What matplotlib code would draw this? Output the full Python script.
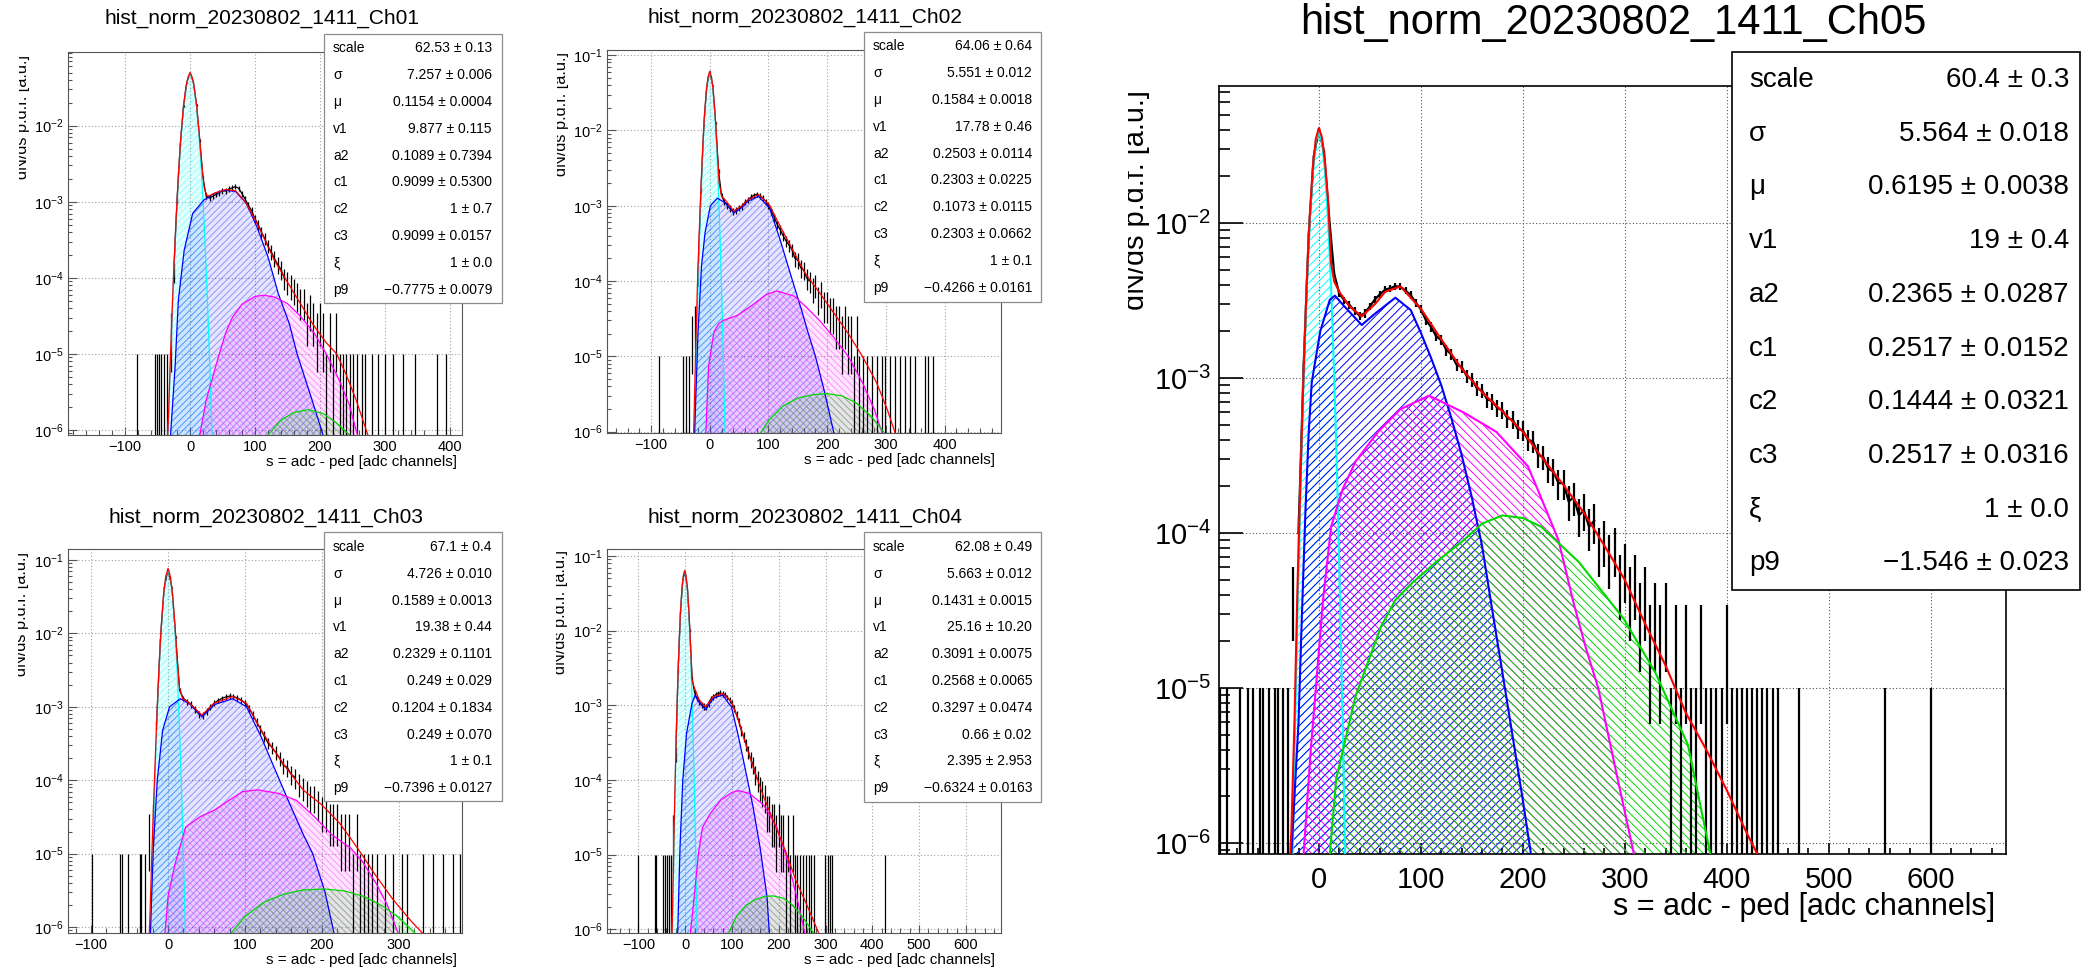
import numpy as np
import matplotlib
matplotlib.use('Agg')
import matplotlib.pyplot as plt
from matplotlib.patches import Rectangle
from matplotlib.ticker import LogLocator, MultipleLocator, NullFormatter
from matplotlib.transforms import Bbox, TransformedBbox

plt.rcParams['font.family'] = ['Liberation Sans', 'DejaVu Sans']
plt.rcParams['mathtext.fontset'] = 'custom'
plt.rcParams['mathtext.rm'] = 'Liberation Sans'
plt.rcParams['mathtext.it'] = 'Liberation Sans:italic'
plt.rcParams['mathtext.bf'] = 'Liberation Sans:bold'
plt.rcParams['hatch.linewidth'] = 0.7

W, H = 2083, 969
COUNT = 1e-5   # one entry of the normalised histogram
BIN = 5        # spacing of the data bins

STAT_NAMES = ['scale', 'σ', 'μ', 'v1', 'a2', 'c1', 'c2', 'c3', 'ξ', 'p9']
XLABEL = 's = adc - ped [adc channels]'
YLABEL = 'dN/ds p.d.f. [a.u.]'

# ---------------- Ch01 ----------------
ch01_stats = ['62.53 ± 0.13', '7.257 ± 0.006', '0.1154 ± 0.0004', '9.877 ± 0.115',
              '0.1089 ± 0.7394', '0.9099 ± 0.5300', '1 ± 0.7', '0.9099 ± 0.0157',
              '1 ± 0.0', '\u22120.7775 ± 0.0079']
ch01_x0 = -40
ch01_counts = [1, 1, 2, 12, 104, 560, 1800, 3700, 4900, 3800, 1880, 640, 205, 118, 112,
               118, 125, 132, 140, 138, 148, 152, 158, 150, 128, 108, 90, 76, 60, 50,
               40, 33, 26, 22, 18, 15, 13, 10, 9, 8, 7, 6, 5, 5, 3, 4, 3, 2, 3, 2,
               1, 2, 1, 2]
ch01_single = [-82, -54, -51, -48, -45, 231, 236, 241, 246, 251, 258, 265, 269, 280,
               289, 300, 312, 328, 346, 380, 395]
ch01_cyan_x = [-38, -34, -30, -26, -22, -18, -14, -10, -6, -3, 0, 3, 6, 10, 14, 18, 22, 26, 30, 34, 38]
ch01_cyan_y = [5.3e-8, 8.1e-7, 9.2e-6, 7.7e-5, 4.8e-4, 2.2e-3, 7.3e-3, 1.82e-2, 3.34e-2, 4.31e-2, 4.7e-2,
               4.31e-2, 3.34e-2, 1.82e-2, 7.3e-3, 2.2e-3, 4.8e-4, 7.7e-5, 9.2e-6, 8.1e-7, 5.3e-8]
ch01_blue_x = [-32, -30, -23, -18, -9, 4, 21, 37, 55, 70, 87, 103, 120, 136, 153, 165, 186, 205, 210]
ch01_blue_y = [3e-7, 8.6e-7, 6.8e-6, 5.1e-5, 2.3e-4, 7.0e-4, 1.05e-3, 1.29e-3, 1.42e-3, 1.37e-3,
               9.5e-4, 4.7e-4, 1.9e-4, 6.2e-5, 2.5e-5, 1.0e-5, 2.8e-6, 8.6e-7, 5e-7]
ch01_magenta_x = [12, 15, 25, 35, 45, 55, 65, 80, 100, 114, 130, 150, 169, 191, 210, 230, 245, 258, 262]
ch01_magenta_y = [4e-7, 8.6e-7, 2.5e-6, 5e-6, 1.0e-5, 1.9e-5, 3.0e-5, 4.5e-5, 5.7e-5, 5.9e-5,
                  5.6e-5, 4.6e-5, 3.2e-5, 1.9e-5, 1.0e-5, 4.5e-6, 2.2e-6, 8.6e-7, 6e-7]
ch01_green_x = [115, 120, 140, 160, 182, 205, 225, 246, 250]
ch01_green_y = [6e-7, 8.6e-7, 1.35e-6, 1.7e-6, 1.85e-6, 1.65e-6, 1.25e-6, 8.6e-7, 7e-7]
ch01_red_x = [-38, -34, -30, -26, -22, -18, -14, -10, -6, -3, 0, 3, 6, 10, 14, 18, 22, 26, 30,
              40, 55, 70, 85, 100, 115, 130, 150, 170, 190, 210, 226, 240, 255, 274, 280]
ch01_red_y = [2e-7, 1.0e-6, 1.0e-5, 8.1e-5, 4.9e-4, 2.25e-3, 7.4e-3, 1.84e-2, 3.37e-2, 4.35e-2, 5.0e-2,
              4.4e-2, 3.4e-2, 1.9e-2, 8.1e-3, 3.1e-3, 1.5e-3, 1.2e-3, 1.2e-3, 1.32e-3, 1.45e-3,
              1.4e-3, 1.0e-3, 5.9e-4, 3.2e-4, 1.7e-4, 8.8e-5, 4.6e-5, 2.4e-5, 1.4e-5, 1.0e-5,
              5.5e-6, 2.6e-6, 8.6e-7, 5e-7]

# ---------------- Ch02 ----------------
ch02_stats = ['64.06 ± 0.64', '5.551 ± 0.012', '0.1584 ± 0.0018', '17.78 ± 0.46',
              '0.2503 ± 0.0114', '0.2303 ± 0.0225', '0.1073 ± 0.0115', '0.2303 ± 0.0662',
              '1 ± 0.1', '\u22120.4266 ± 0.0161']
ch02_x0 = -35
ch02_counts = [1, 2, 3, 12, 160, 1190, 3900, 6000, 4000, 1260, 290, 138, 112, 102, 92,
               84, 88, 94, 98, 112, 118, 130, 138, 142, 136, 128, 114, 101, 84, 70,
               56, 48, 40, 34, 30, 26, 20, 19, 15, 14, 11, 10, 8, 9, 6, 7, 5, 5, 4, 4,
               3, 3, 2, 3, 2, 2, 1, 2, 1]
ch02_single = [-87, -45, -40, 261, 267, 276, 284, 293, 298, 307, 315, 324, 332, 341,
               349, 366, 371, 380]
ch02_cyan_x = [-27, -24, -21, -18, -15, -12, -9, -6, -3, 0, 3, 6, 9, 12, 15, 18, 21, 24, 27]
ch02_cyan_y = [4.2e-7, 5.0e-6, 4.5e-5, 3.0e-4, 1.5e-3, 5.6e-3, 1.56e-2, 3.23e-2, 5.01e-2, 5.8e-2,
               5.01e-2, 3.23e-2, 1.56e-2, 5.6e-3, 1.5e-3, 3.0e-4, 4.5e-5, 5.0e-6, 4.2e-7]
ch02_blue_x = [-28, -26, -20, -14, -8, 1, 13, 26, 41, 55, 65, 83, 102, 120, 138, 156, 168, 180,
               195, 213, 218]
ch02_blue_y = [4e-7, 8.5e-7, 2.1e-5, 1.6e-4, 4.4e-4, 1.0e-3, 1.26e-3, 1.1e-3, 8.0e-4, 9.5e-4,
               1.15e-3, 1.33e-3, 9.3e-4, 3.5e-4, 1.2e-4, 4.2e-5, 2.0e-5, 1.0e-5, 3.5e-6, 8.5e-7, 5e-7]
ch02_magenta_x = [-9, -7, -2, 7, 15, 23, 47, 71, 96, 114, 144, 162, 187, 211, 236, 260, 280, 296, 300]
ch02_magenta_y = [4e-7, 8.5e-7, 7.4e-6, 2.1e-5, 2.7e-5, 3.0e-5, 3.5e-5, 4.7e-5, 6.6e-5, 7.4e-5,
                  6.3e-5, 4.7e-5, 3.0e-5, 1.8e-5, 1.0e-5, 4.5e-6, 2.0e-6, 8.5e-7, 6e-7]
ch02_green_x = [78, 82, 100, 125, 150, 175, 199, 225, 250, 275, 303, 307]
ch02_green_y = [6e-7, 8.5e-7, 1.4e-6, 2.2e-6, 2.8e-6, 3.1e-6, 3.2e-6, 3.0e-6, 2.4e-6, 1.6e-6, 8.5e-7, 6e-7]
ch02_red_x = [-30, -27, -24, -21, -18, -15, -12, -9, -6, -3, 0, 3, 6, 9, 12, 16, 20, 26, 41, 55,
              65, 83, 102, 120, 138, 162, 187, 211, 236, 260, 284, 302, 315, 320]
ch02_red_y = [2e-7, 1.3e-6, 1.2e-5, 9e-5, 4.3e-4, 1.7e-3, 5.9e-3, 1.61e-2, 3.3e-2, 5.1e-2, 6.1e-2,
              5.12e-2, 3.36e-2, 1.68e-2, 6.8e-3, 2.0e-3, 1.35e-3, 1.2e-3, 8.5e-4, 1.0e-3, 1.2e-3,
              1.41e-3, 1.02e-3, 5.3e-4, 2.9e-4, 1.29e-4, 7.0e-5, 3.8e-5, 2.0e-5, 1.0e-5, 4.5e-6,
              2.0e-6, 1.0e-6, 7e-7]

# ---------------- Ch03 ----------------
ch03_stats = ['67.1 ± 0.4', '4.726 ± 0.010', '0.1589 ± 0.0013', '19.38 ± 0.44',
              '0.2329 ± 0.1101', '0.249 ± 0.029', '0.1204 ± 0.1834', '0.249 ± 0.070',
              '1 ± 0.1', '\u22120.7396 ± 0.0127']
ch03_x0 = -30
ch03_counts = [1, 2, 3, 58, 800, 4170, 7400, 4230, 885, 168, 130, 118, 108, 92, 80,
               76, 86, 100, 112, 122, 130, 136, 140, 138, 132, 124, 112, 96, 78, 62,
               50, 40, 32, 28, 24, 20, 16, 15, 12, 11, 9, 8, 7, 6, 6, 5, 4, 4, 3, 3,
               3, 2, 2, 2, 1, 2, 1, 1, 1]
ch03_single = [-99, -62, -60, -52, -37, -35, 265, 271, 282, 292, 304, 310, 331, 344, 357, 370, 379]
ch03_cyan_x = [-24, -21, -18, -15, -12, -9, -6, -3, 0, 3, 6, 9, 12, 15, 18, 21, 24]
ch03_cyan_y = [1.8e-7, 3.7e-6, 5.1e-5, 4.7e-4, 2.87e-3, 1.174e-2, 3.22e-2, 5.89e-2, 7.2e-2,
               5.89e-2, 3.22e-2, 1.174e-2, 2.87e-3, 4.7e-4, 5.1e-5, 3.7e-6, 1.8e-7]
ch03_blue_x = [-25, -23, -19, -14, -7, 2, 16, 28, 44, 60, 84, 102, 121, 139, 158, 176, 188, 204, 216, 220]
ch03_blue_y = [4e-7, 8e-7, 1.26e-5, 1.0e-4, 4.8e-4, 1.0e-3, 1.29e-3, 1.1e-3, 7.3e-4, 1.07e-3,
               1.29e-3, 1.0e-3, 3.9e-4, 1.4e-4, 4.8e-5, 1.8e-5, 1.0e-5, 3.0e-6, 8e-7, 5e-7]
ch03_magenta_x = [-6, -4, 0, 9, 23, 42, 60, 79, 97, 116, 144, 167, 190, 213, 237, 252, 270, 285, 299, 303]
ch03_magenta_y = [4e-7, 8.3e-7, 2.6e-6, 7.2e-6, 2.3e-5, 3.2e-5, 3.9e-5, 5.3e-5, 7.0e-5, 7.4e-5,
                  6.6e-5, 5.3e-5, 3.2e-5, 1.8e-5, 1.2e-5, 8e-6, 4e-6, 2e-6, 8.3e-7, 6e-7]
ch03_green_x = [78, 82, 100, 125, 150, 175, 204, 230, 255, 280, 300, 321, 325]
ch03_green_y = [6e-7, 8.3e-7, 1.4e-6, 2.2e-6, 2.8e-6, 3.2e-6, 3.3e-6, 3.1e-6, 2.6e-6, 1.9e-6,
                1.35e-6, 8.3e-7, 6e-7]
ch03_red_x = [-27, -24, -21, -18, -15, -12, -9, -6, -3, 0, 3, 6, 9, 12, 15, 19, 28, 44, 60, 84,
              102, 121, 135, 153, 176, 200, 223, 246, 269, 292, 316, 332, 336]
ch03_red_y = [3e-7, 1e-6, 1.0e-5, 8e-5, 5.4e-4, 3.0e-3, 1.19e-2, 3.25e-2, 5.93e-2, 7.67e-2,
              5.98e-2, 3.33e-2, 1.29e-2, 4.1e-3, 1.8e-3, 1.29e-3, 1.12e-3, 7.7e-4, 1.12e-3,
              1.38e-3, 1.12e-3, 4.8e-4, 2.8e-4, 1.5e-4, 7.3e-5, 4.6e-5, 2.6e-5, 1.2e-5, 5.2e-6,
              2.4e-6, 1.2e-6, 8e-7, 6e-7]

# ---------------- Ch04 ----------------
ch04_stats = ['62.08 ± 0.49', '5.663 ± 0.012', '0.1431 ± 0.0015', '25.16 ± 10.20',
              '0.3091 ± 0.0075', '0.2568 ± 0.0065', '0.3297 ± 0.0474', '0.66 ± 0.02',
              '2.395 ± 2.953', '\u22120.6324 ± 0.0163']
ch04_x0 = -30
ch04_counts = [1, 2, 22, 290, 1750, 4830, 6130, 3600, 1025, 225, 150, 124, 112, 102, 96,
               95, 106, 122, 130, 138, 144, 146, 142, 140, 128, 118, 106, 90, 74, 60,
               46, 38, 30, 24, 19, 16, 12, 10, 8, 7, 6, 4, 4, 3, 3, 2, 3, 2, 2, 1,
               2, 1, 2, 1, 1]
ch04_single = [-100, -64, -62, -47, -43, -38, -34, 245, 252, 258, 265, 270, 276, 299, 305,
               310, 313, 427]
ch04_cyan_x = [-28, -25, -22, -19, -16, -13, -10, -7, -4, -1, 2, 5, 8, 11, 14, 17, 20, 23, 26]
ch04_cyan_y = [7.2e-7, 7.8e-6, 6.4e-5, 4.0e-4, 1.86e-3, 6.6e-3, 1.75e-2, 3.54e-2, 5.39e-2, 6.2e-2,
               5.39e-2, 3.54e-2, 1.75e-2, 6.6e-3, 1.86e-3, 4.0e-4, 6.4e-5, 7.8e-6, 7.2e-7]
ch04_blue_x = [-18, -16, -11, -5, 3, 14.5, 21, 30, 44, 60, 80, 99, 114, 129, 145, 160, 175, 180, 183]
ch04_blue_y = [4e-7, 8.6e-7, 1.26e-5, 1.0e-4, 4.2e-4, 1.05e-3, 1.37e-3, 1.1e-3, 8.7e-4, 1.25e-3,
               1.37e-3, 9.5e-4, 3.8e-4, 1.35e-4, 4.4e-5, 1.26e-5, 2.7e-6, 8.6e-7, 5e-7]
ch04_magenta_x = [9, 11, 20, 28, 37, 53, 76, 100, 114, 137, 168, 195, 215, 230, 245, 256, 260]
ch04_magenta_y = [5e-7, 8.6e-7, 3.0e-6, 1.0e-5, 2.3e-5, 3.5e-5, 5.4e-5, 6.8e-5, 7.2e-5, 6.6e-5,
                  4.6e-5, 2.4e-5, 1.0e-5, 4.5e-6, 1.8e-6, 8.6e-7, 6e-7]
ch04_green_x = [88, 92, 110, 130, 150, 170, 188, 210, 230, 250, 276, 280]
ch04_green_y = [6e-7, 8.6e-7, 1.5e-6, 2.1e-6, 2.5e-6, 2.75e-6, 2.8e-6, 2.6e-6, 2.1e-6, 1.5e-6, 8.6e-7, 6e-7]
ch04_red_x = [-28, -25, -22, -19, -16, -13, -10, -7, -4, -1, 2, 5, 8, 11, 14.5, 20, 30, 44, 60,
              80, 99, 114, 129, 145, 168, 191, 214, 236, 259, 286, 290]
ch04_red_y = [8e-7, 8e-6, 6.5e-5, 4.0e-4, 1.86e-3, 6.6e-3, 1.76e-2, 3.56e-2, 5.42e-2, 6.4e-2,
              5.45e-2, 3.6e-2, 1.83e-2, 7.5e-3, 2.2e-3, 1.7e-3, 1.18e-3, 9.5e-4, 1.3e-3, 1.44e-3,
              1.12e-3, 6.3e-4, 3.1e-4, 1.5e-4, 5.9e-5, 2.6e-5, 1.14e-5, 4.6e-6, 2.2e-6, 8.7e-7, 6e-7]

# ---------------- Ch05 ----------------
ch05_stats = ['60.4 ± 0.3', '5.564 ± 0.018', '0.6195 ± 0.0038', '19 ± 0.4',
              '0.2365 ± 0.0287', '0.2517 ± 0.0152', '0.1444 ± 0.0321', '0.2517 ± 0.0316',
              '1 ± 0.0', '\u22121.546 ± 0.023']
ch05_x0 = -30
ch05_counts = [1, 4, 10, 118, 840, 2700, 4050, 2880, 1090, 470, 350, 318, 296, 272, 252,
               262, 290, 322, 348, 372, 380, 392, 388, 366, 344, 306, 278, 236, 214, 186,
               176, 152, 142, 122, 118, 103, 98, 86, 83, 73, 71, 64, 62, 55, 54, 47, 46,
               40, 39, 32, 31, 26, 25, 21, 21, 16, 17, 13, 14, 11, 12, 8, 9, 7, 8, 5, 6,
               4, 5, 3, 4, 2, 3, 2, 3, 1, 2, 1, 2, 1, 1, 2, 1, 1, 1, 1, 2, 1, 1, 1, 1,
               1, 1, 1, 1, 1, 1]
ch05_single = [-97, -90, -77, -70, -65, -58, -55, -49, -43, -40, -35, 471, 555, 600]
ch05_cyan_x = [-27, -24, -21, -18, -15, -12, -9, -6, -3, 0, 3, 6, 9, 12, 15, 18, 21, 24, 27]
ch05_cyan_y = [3.0e-7, 3.5e-6, 3.1e-5, 2.08e-4, 1.03e-3, 3.81e-3, 1.054e-2, 2.18e-2, 3.37e-2, 3.9e-2,
               3.37e-2, 2.18e-2, 1.054e-2, 3.81e-3, 1.03e-3, 2.08e-4, 3.1e-5, 3.5e-6, 3.0e-7]
ch05_blue_x = [-30, -27, -20, -17.5, -15.5, -13, -10, -7, 1.3, 10.7, 15.7, 25, 42, 55, 75, 90, 100,
               110, 120, 130, 140, 150, 160, 170, 180, 190, 200, 208, 212]
ch05_blue_y = [4e-7, 8.5e-7, 6e-6, 2.0e-5, 5e-5, 1.5e-4, 4.5e-4, 9.4e-4, 2.0e-3, 3.2e-3, 3.4e-3,
               2.9e-3, 2.2e-3, 2.6e-3, 3.3e-3, 2.75e-3, 1.96e-3, 1.35e-3, 9.0e-4, 5.5e-4, 3.2e-4,
               1.7e-4, 8.3e-5, 3.2e-5, 1.26e-5, 4.9e-6, 1.9e-6, 8.5e-7, 5e-7]
ch05_magenta_x = [-18, -15, -8, -3, 4, 12, 23, 36, 58, 80, 108, 142, 174, 205, 217, 235, 250, 262,
                  274, 293, 309, 313]
ch05_magenta_y = [4e-7, 8.5e-7, 4e-6, 1.0e-5, 3.7e-5, 1.1e-4, 1.9e-4, 2.9e-4, 4.5e-4, 6.3e-4,
                  7.7e-4, 6.0e-4, 4.5e-4, 2.7e-4, 1.75e-4, 9e-5, 3.5e-5, 1.8e-5, 1.0e-5, 2.6e-6,
                  8.5e-7, 5e-7]
ch05_green_x = [8, 10.7, 17, 36, 61, 75, 92, 115, 142, 160, 180, 200, 218, 255, 299, 330, 362, 384, 388]
ch05_green_y = [5e-7, 8.5e-7, 2.6e-6, 8.9e-6, 2.5e-5, 3.7e-5, 4.8e-5, 6.5e-5, 9.0e-5, 1.15e-4,
                1.3e-4, 1.25e-4, 1.1e-4, 6.5e-5, 2.8e-5, 1.26e-5, 4.3e-6, 8.5e-7, 5e-7]
ch05_red_x = [-30, -27, -24, -21, -18, -15, -12, -9, -6, -3, 0, 3, 6, 9, 12, 15, 20, 30, 42, 55,
              65, 80, 100, 120, 140, 160, 180, 200, 220, 240, 260, 280, 300, 320, 340, 360, 380,
              400, 420, 430, 434]
ch05_red_y = [5e-7, 1.2e-6, 6e-6, 4.5e-5, 2.3e-4, 1.1e-3, 4.0e-3, 1.11e-2, 2.28e-2, 3.5e-2, 4.1e-2,
              3.57e-2, 2.45e-2, 1.39e-2, 5.5e-3, 4.2e-3, 3.6e-3, 2.9e-3, 2.5e-3, 3.0e-3, 3.6e-3,
              3.9e-3, 2.8e-3, 1.78e-3, 1.15e-3, 8.1e-4, 6.1e-4, 4.5e-4, 3.0e-4, 2.04e-4, 1.35e-4,
              8.3e-5, 5.0e-5, 2.6e-5, 1.4e-5, 6.9e-6, 4.0e-6, 2.2e-6, 1.15e-6, 8.5e-7, 7e-7]


COLORS = {'cyan': (0, 1, 1), 'blue': (0, 0, 1), 'magenta': (1, 0, 1), 'green': (0, 0.85, 0)}
SMALL = dict(title=15, stats=10, tick=10.5, xlabel=11, ylabel=11.8, curve_lw=0.9, data_lw=0.9,
             frame='#555555', frame_lw=0.8, grid='#a0a0a0', box_edge='#8c8c8c', box_lw=0.9,
             ymaj=6.5, ymin=3, xmaj=5.8, xmin=3.4, xpad=3.6, ypad=3,
             hatch_l='/////', hatch_r='\\\\\\\\\\', face_alpha=0.1, hatch_alpha=0.35)
BIG = dict(title=30, stats=20, tick=21, xlabel=22, ylabel=20.8, curve_lw=1.5, data_lw=1.6,
           frame='black', frame_lw=1.2, grid='#555555', box_edge='black', box_lw=1.2,
           ymaj=17, ymin=8, xmaj=8, xmin=4, xpad=9, ypad=5.8,
           hatch_l='////', hatch_r='\\\\\\\\', face_alpha=0.0, hatch_alpha=1.0)


def fx(px):
    return px / W


def fy(py):
    return 1 - py / H


def draw_panel(fig, p):
    st = p['style']
    l, t, r, b = p['frame']
    ax = fig.add_axes([fx(l), fy(b), fx(r) - fx(l), fy(t) - fy(b)])
    ax.set_yscale('log')
    ax.set_xlim(*p['xlim'])
    ax.set_ylim(*p['ylim'])
    ybot = p['ylim'][0]

    # fitted components: hatched areas
    for name, (cx, cy) in p['curves'].items():
        col = COLORS[name]
        hatch = st['hatch_l'] if name in ('cyan', 'blue') else st['hatch_r']
        ax.fill_between(cx, cy, 1e-10, facecolor=col + (st['face_alpha'],),
                        edgecolor=col + (st['hatch_alpha'],), hatch=hatch, linewidth=0, zorder=1)

    # data histogram with Poisson errors
    counts = np.array(p['counts'], dtype=float)
    x = p['x0'] + BIN * np.arange(len(counts))
    y = counts * COUNT
    err = np.sqrt(counts) * COUNT
    lo = np.where(counts > 1, y - err, ybot)
    hi = np.where(counts > 1, y + err, y)
    ax.vlines(x, lo, hi, color='black', lw=st['data_lw'], zorder=2)
    dense = counts >= 10
    ax.plot(x[dense], y[dense], color='black', lw=st['data_lw'], zorder=2)
    ax.vlines(p['single'], ybot, COUNT, color='black', lw=st['data_lw'], zorder=2)

    # fitted curves
    for name, (cx, cy) in p['curves'].items():
        ax.plot(cx, cy, color=COLORS[name], lw=st['curve_lw'], zorder=3)
    ax.plot(p['red'][0], p['red'][1], color='red', lw=st['curve_lw'], zorder=4)

    ax.yaxis.set_major_locator(LogLocator(base=10, numticks=20))
    ax.yaxis.set_minor_locator(LogLocator(base=10, subs=np.arange(2, 10), numticks=20))
    ax.yaxis.set_minor_formatter(NullFormatter())
    ax.xaxis.set_major_locator(MultipleLocator(100))
    ax.xaxis.set_minor_locator(MultipleLocator(20))
    ax.tick_params(which='both', direction='in', top=False, right=False,
                   labelsize=st['tick'], color=st['frame'], width=st['frame_lw'])
    ax.tick_params(axis='y', which='major', length=st['ymaj'], pad=st['ypad'])
    ax.tick_params(axis='y', which='minor', length=st['ymin'])
    ax.tick_params(axis='x', which='major', length=st['xmaj'], pad=st['xpad'])
    ax.tick_params(axis='x', which='minor', length=st['xmin'])
    ax.grid(True, which='major', linestyle=(0, (1, 2)), color=st['grid'], lw=0.8)
    ax.set_axisbelow(True)
    for sp in ax.spines.values():
        sp.set_color(st['frame'])
        sp.set_linewidth(st['frame_lw'])

    # title and axis titles
    fig.text(fx(p['title_xy'][0]), fy(p['title_xy'][1]), 'hist_norm_20230802_1411_' + p['name'],
             ha='center', va='center', fontsize=st['title'])
    fig.text(fx(p['xlabel_xy'][0]), fy(p['xlabel_xy'][1]), XLABEL,
             ha='right', va='center', fontsize=st['xlabel'])
    yl = fig.text(fx(p['ylabel_xy'][0]), fy(p['ylabel_xy'][1]), YLABEL, rotation=90,
                  rotation_mode='anchor', ha='right', va='baseline', fontsize=st['ylabel'])
    yl.set_clip_on(True)
    yl.set_clip_box(TransformedBbox(Bbox.from_extents(fx(p['clip_x']), 0, 1, 1), fig.transFigure))

    # fit statistics box
    bl, bt, br, bb = p['box']
    fig.add_artist(Rectangle((fx(bl), fy(bb)), fx(br) - fx(bl), fy(bt) - fy(bb),
                             transform=fig.transFigure, facecolor='white',
                             edgecolor=st['box_edge'], lw=st['box_lw'], zorder=5))
    for i, (nm, val) in enumerate(zip(STAT_NAMES, p['stats'])):
        yy = fy(p['row0'] + i * p['row_step'])
        fig.text(fx(p['name_x']), yy, nm, ha='left', va='center', fontsize=st['stats'], zorder=6)
        fig.text(fx(p['value_x']), yy, val, ha='right', va='center', fontsize=st['stats'], zorder=6)


panels = [
    dict(name='Ch01', style=SMALL, frame=(68, 52, 462, 435), xlim=(-188, 419), ylim=(8.6e-7, 0.093),
         title_xy=(262, 18), xlabel_xy=(457, 462), ylabel_xy=(27, 55), clip_x=19,
         box=(324, 34, 502, 303), name_x=333, value_x=492, row0=48, row_step=26.9,
         stats=ch01_stats, x0=ch01_x0, counts=ch01_counts, single=ch01_single,
         curves={'cyan': (ch01_cyan_x, ch01_cyan_y), 'blue': (ch01_blue_x, ch01_blue_y),
                 'magenta': (ch01_magenta_x, ch01_magenta_y), 'green': (ch01_green_x, ch01_green_y)},
         red=(ch01_red_x, ch01_red_y)),
    dict(name='Ch02', style=SMALL, frame=(607, 50, 1001, 433), xlim=(-175, 496), ylim=(9.6e-7, 0.117),
         title_xy=(805, 17), xlabel_xy=(995, 460), ylabel_xy=(566, 52), clip_x=557,
         box=(864, 32, 1041, 302), name_x=873, value_x=1032, row0=46, row_step=26.9,
         stats=ch02_stats, x0=ch02_x0, counts=ch02_counts, single=ch02_single,
         curves={'cyan': (ch02_cyan_x, ch02_cyan_y), 'blue': (ch02_blue_x, ch02_blue_y),
                 'magenta': (ch02_magenta_x, ch02_magenta_y), 'green': (ch02_green_x, ch02_green_y)},
         red=(ch02_red_x, ch02_red_y)),
    dict(name='Ch03', style=SMALL, frame=(68, 549, 462, 933), xlim=(-130, 382), ylim=(8.3e-7, 0.141),
         title_xy=(266, 517), xlabel_xy=(457, 960), ylabel_xy=(26, 552), clip_x=18,
         box=(324, 532, 502, 801), name_x=333, value_x=492, row0=547, row_step=26.8,
         stats=ch03_stats, x0=ch03_x0, counts=ch03_counts, single=ch03_single,
         curves={'cyan': (ch03_cyan_x, ch03_cyan_y), 'blue': (ch03_blue_x, ch03_blue_y),
                 'magenta': (ch03_magenta_x, ch03_magenta_y), 'green': (ch03_green_x, ch03_green_y)},
         red=(ch03_red_x, ch03_red_y)),
    dict(name='Ch04', style=SMALL, frame=(607, 549, 1001, 933), xlim=(-167, 675), ylim=(8.9e-7, 0.124),
         title_xy=(805, 517), xlabel_xy=(995, 960), ylabel_xy=(565, 550), clip_x=556,
         box=(864, 532, 1041, 802), name_x=873, value_x=1032, row0=547, row_step=26.8,
         stats=ch04_stats, x0=ch04_x0, counts=ch04_counts, single=ch04_single,
         curves={'cyan': (ch04_cyan_x, ch04_cyan_y), 'blue': (ch04_blue_x, ch04_blue_y),
                 'magenta': (ch04_magenta_x, ch04_magenta_y), 'green': (ch04_green_x, ch04_green_y)},
         red=(ch04_red_x, ch04_red_y)),
    dict(name='Ch05', style=BIG, frame=(1219, 86, 2006, 854), xlim=(-98, 674), ylim=(8.5e-7, 0.0766),
         title_xy=(1613, 23), xlabel_xy=(1995, 907), ylabel_xy=(1144, 90), clip_x=1128,
         box=(1732, 52, 2080, 590), name_x=1749, value_x=2069, row0=80, row_step=53.7,
         stats=ch05_stats, x0=ch05_x0, counts=ch05_counts, single=ch05_single,
         curves={'cyan': (ch05_cyan_x, ch05_cyan_y), 'blue': (ch05_blue_x, ch05_blue_y),
                 'magenta': (ch05_magenta_x, ch05_magenta_y), 'green': (ch05_green_x, ch05_green_y)},
         red=(ch05_red_x, ch05_red_y)),
]

fig = plt.figure(figsize=(W / 100, H / 100), dpi=100)
for p in panels:
    draw_panel(fig, p)
fig.savefig('out.png', dpi=100)
